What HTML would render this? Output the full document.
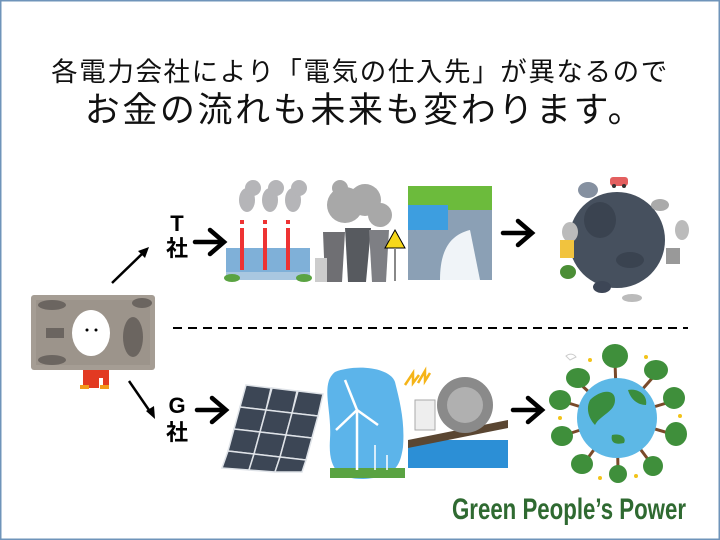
<!DOCTYPE html>
<html><head><meta charset="utf-8"><style>
html,body{margin:0;padding:0;background:#fff}
svg{display:block}
text{font-family:"Liberation Sans","Noto Sans CJK JP",sans-serif}
</style></head><body>
<svg width="720" height="540" viewBox="0 0 720 540">
<rect x="0.5" y="0.5" width="719" height="539" fill="#fff" stroke="#6f94ba" stroke-width="2"/>
<text x="360" y="81" font-size="26.5" text-anchor="middle" fill="#111" letter-spacing="1.6">各電力会社により「電気の仕入先」が異なるので</text>
<text x="365" y="122" font-size="35" text-anchor="middle" fill="#111" letter-spacing="2.6">お金の流れも未来も変わります。</text>

<line x1="112" y1="283" x2="144" y2="252" stroke="#000" stroke-width="2.5"/>
<polygon points="149,247 138,251 145,258" fill="#000"/>
<line x1="129" y1="381" x2="151" y2="413" stroke="#000" stroke-width="2.5"/>
<polygon points="155,419 146,411 154,406" fill="#000"/>
<text x="177" y="231" font-size="22" font-weight="bold" text-anchor="middle">T</text>
<text x="177" y="256" font-size="22" font-weight="bold" text-anchor="middle">社</text>
<text x="177" y="413" font-size="22" font-weight="bold" text-anchor="middle">G</text>
<text x="177" y="440" font-size="22" font-weight="bold" text-anchor="middle">社</text>
<g stroke="#000" stroke-width="4.5" fill="none" stroke-linecap="round">
<path d="M195 242H222M210 230L224 242L210 254"/>
<path d="M197 410H224M212 398L226 410L212 422"/>
<path d="M503 233H530M518 221L532 233L518 245"/>
<path d="M513 410H540M528 398L542 410L528 422"/>
</g>

<!-- banknote -->
<rect x="31" y="295" width="124" height="75" rx="3" fill="#a59d94"/>
<rect x="36" y="300" width="114" height="65" fill="#9c948b"/>
<ellipse cx="91" cy="333" rx="19" ry="23" fill="#fff"/>
<circle cx="87" cy="330" r="1.5" fill="#000"/><circle cx="96" cy="330" r="1.5" fill="#000"/>
<ellipse cx="133" cy="337" rx="10" ry="20" fill="#6b6560"/>
<rect x="46" y="328" width="18" height="10" fill="#6b6560"/>
<ellipse cx="52" cy="305" rx="14" ry="5" fill="#6b6560"/><ellipse cx="52" cy="360" rx="14" ry="5" fill="#6b6560"/>
<ellipse cx="142" cy="303" rx="10" ry="5" fill="#6b6560"/>
<path d="M83 370h26v18h-6v-10h-4v10h-16z" fill="#e23a22"/>
<rect x="80" y="385" width="9" height="4" fill="#f39a1b"/><rect x="100" y="385" width="9" height="4" fill="#f39a1b"/>

<!-- thermal plant -->
<g fill="#b5b5b8">
<ellipse cx="247" cy="200" rx="8" ry="12"/><ellipse cx="253" cy="188" rx="8" ry="8"/>
<ellipse cx="270" cy="200" rx="8" ry="12"/><ellipse cx="276" cy="188" rx="8" ry="8"/>
<ellipse cx="293" cy="200" rx="8" ry="12"/><ellipse cx="299" cy="188" rx="8" ry="8"/>
</g>
<rect x="226" y="248" width="84" height="30" fill="#7fb0d8"/>
<rect x="240" y="220" width="4" height="50" fill="#e33"/><rect x="263" y="220" width="4" height="50" fill="#e33"/><rect x="286" y="220" width="4" height="50" fill="#e33"/>
<rect x="240" y="224" width="4" height="4" fill="#fff"/><rect x="263" y="224" width="4" height="4" fill="#fff"/><rect x="286" y="224" width="4" height="4" fill="#fff"/>
<rect x="226" y="272" width="84" height="8" fill="#a9c7e0"/>
<ellipse cx="232" cy="278" rx="8" ry="4" fill="#5aa342"/><ellipse cx="304" cy="278" rx="8" ry="4" fill="#5aa342"/>
<!-- cooling towers -->
<g fill="#a8a8a8">
<ellipse cx="345" cy="205" rx="18" ry="18"/><ellipse cx="365" cy="200" rx="16" ry="16"/><ellipse cx="380" cy="215" rx="12" ry="12"/><ellipse cx="340" cy="188" rx="8" ry="8"/>
</g>
<path d="M323 232h22l-3 50h-17z" fill="#6f6f73"/>
<path d="M345 228h26l-5 54h-18z" fill="#575a5f"/>
<path d="M369 230h20l-3 52h-14z" fill="#7e7f84"/>
<rect x="315" y="258" width="12" height="24" fill="#ccc"/>
<polygon points="395,230 405,248 385,248" fill="#f6d71a" stroke="#000" stroke-width="1"/>
<line x1="395" y1="248" x2="395" y2="281" stroke="#888" stroke-width="2"/>
<!-- dam -->
<rect x="408" y="186" width="84" height="94" fill="#8ba0b5"/>
<rect x="408" y="186" width="84" height="24" fill="#6cbb3c"/>
<rect x="408" y="205" width="40" height="25" fill="#3d9ee0"/>
<path d="M440 280c0-30 10-45 30-50l10 50z" fill="#f0f4f8"/>

<!-- dark globe -->
<circle cx="617" cy="240" r="48" fill="#46505e"/>
<ellipse cx="600" cy="220" rx="16" ry="18" fill="#3a4350"/>
<ellipse cx="630" cy="260" rx="14" ry="8" fill="#3a4350"/>
<ellipse cx="570" cy="232" rx="8" ry="10" fill="#bbb"/>
<ellipse cx="682" cy="230" rx="7" ry="10" fill="#bbb"/>
<ellipse cx="660" cy="205" rx="9" ry="6" fill="#aaa"/>
<ellipse cx="588" cy="190" rx="10" ry="8" fill="#8590a0"/>
<rect x="610" y="177" width="18" height="9" rx="3" fill="#e35f5f"/>
<circle cx="614" cy="186" r="2" fill="#333"/><circle cx="624" cy="186" r="2" fill="#333"/>
<rect x="560" y="240" width="14" height="18" fill="#f1c33e"/>
<rect x="666" y="248" width="14" height="16" fill="#999"/>
<ellipse cx="568" cy="272" rx="8" ry="7" fill="#4b8e36"/>
<ellipse cx="602" cy="287" rx="9" ry="6" fill="#3d4656"/>
<ellipse cx="632" cy="298" rx="10" ry="4" fill="#bbb"/>

<line x1="173" y1="328" x2="688" y2="328" stroke="#000" stroke-width="2" stroke-dasharray="9,6"/>

<!-- solar -->
<g fill="#3c4655" stroke="#dfe3e8" stroke-width="1.5">
<polygon points="246,385 271,388 266,410 240,407"/><polygon points="272,388 297,391 292,413 266,410"/><polygon points="298,391 323,394 318,416 292,413"/>
<polygon points="240,407 266,410 260,432 234,429"/><polygon points="266,410 292,413 286,435 260,432"/><polygon points="292,413 318,416 312,438 286,435"/>
<polygon points="234,429 260,432 254,454 228,451"/><polygon points="260,432 286,435 280,457 254,454"/><polygon points="286,435 312,438 306,460 280,457"/>
<polygon points="228,451 254,454 249,470 222,468"/><polygon points="254,454 280,457 275,472 249,470"/><polygon points="280,457 306,460 302,472 275,472"/>
</g>
<!-- wind -->
<path d="M335 372c20-8 55-5 60 10c5 20 10 40 8 65c-3 20-8 30-40 32c-25 0-35-10-33-40c2-30 -10-55 5-67z" fill="#5cb4ea"/>
<rect x="330" y="468" width="75" height="10" fill="#5aa342"/>
<g stroke="#fff" stroke-width="2.5"><line x1="357" y1="410" x2="357" y2="470"/><line x1="357" y1="410" x2="345" y2="380"/><line x1="357" y1="410" x2="378" y2="425"/><line x1="357" y1="410" x2="336" y2="430"/>
<line x1="375" y1="445" x2="375" y2="470" stroke-width="1.5"/><line x1="387" y1="455" x2="387" y2="470" stroke-width="1.5"/></g>
<!-- water wheel -->
<rect x="408" y="440" width="100" height="28" fill="#2c8fd6"/>
<path d="M408 440l100-20v8l-100 20z" fill="#5a4632"/>
<rect x="415" y="400" width="20" height="30" fill="#eee" stroke="#aaa"/>
<circle cx="465" cy="405" r="28" fill="#8a8a8a"/><circle cx="465" cy="405" r="18" fill="#b0b0b0"/>
<path d="M405 385l8-12 0 10 6-8M418 383l7-12 0 10 5-8" stroke="#f5b418" stroke-width="2.5" fill="none"/>

<!-- green globe trees -->
<g stroke="#7a4a2a" stroke-width="3">
<line x1="617" y1="418" x2="615" y2="362"/><line x1="617" y1="418" x2="578" y2="382"/><line x1="617" y1="418" x2="655" y2="375"/>
<line x1="617" y1="418" x2="670" y2="402"/><line x1="617" y1="418" x2="565" y2="402"/><line x1="617" y1="418" x2="565" y2="435"/>
<line x1="617" y1="418" x2="672" y2="434"/><line x1="617" y1="418" x2="585" y2="462"/><line x1="617" y1="418" x2="650" y2="462"/><line x1="617" y1="418" x2="618" y2="470"/>
</g>
<g fill="#3f8f3b">
<ellipse cx="615" cy="356" rx="13" ry="12"/><ellipse cx="578" cy="378" rx="12" ry="10"/><ellipse cx="656" cy="370" rx="12" ry="10"/><ellipse cx="674" cy="398" rx="11" ry="11"/>
<ellipse cx="560" cy="400" rx="11" ry="10"/><ellipse cx="562" cy="436" rx="11" ry="10"/><ellipse cx="676" cy="434" rx="11" ry="12"/><ellipse cx="582" cy="464" rx="11" ry="10"/><ellipse cx="653" cy="466" rx="10" ry="10"/><ellipse cx="618" cy="474" rx="9" ry="9"/>
</g>
<g fill="#f2c31a"><circle cx="590" cy="360" r="2"/><circle cx="646" cy="357" r="2"/><circle cx="680" cy="416" r="2"/><circle cx="560" cy="418" r="2"/><circle cx="636" cy="476" r="2"/><circle cx="600" cy="478" r="2"/></g>
<circle cx="617" cy="418" r="40" fill="#5db8e6"/>
<path d="M590 400c10-10 25-12 25 0s-15 15-20 25c-5-5-10-15-5-25zM628 390c10-2 20 5 18 15c-8 0-15-5-18-15zM612 435c8-2 15 2 12 8c-8 2-14 0-12-8z" fill="#3a8d3e"/>
<path d="M566 356c4-3 8-2 10 1l-6 3z" fill="#fff" stroke="#ccc"/>

<text x="569" y="519" font-size="30" font-weight="bold" fill="#2f6a31" text-anchor="middle" textLength="234" lengthAdjust="spacingAndGlyphs">Green People’s Power</text>
</svg>
</body></html>
